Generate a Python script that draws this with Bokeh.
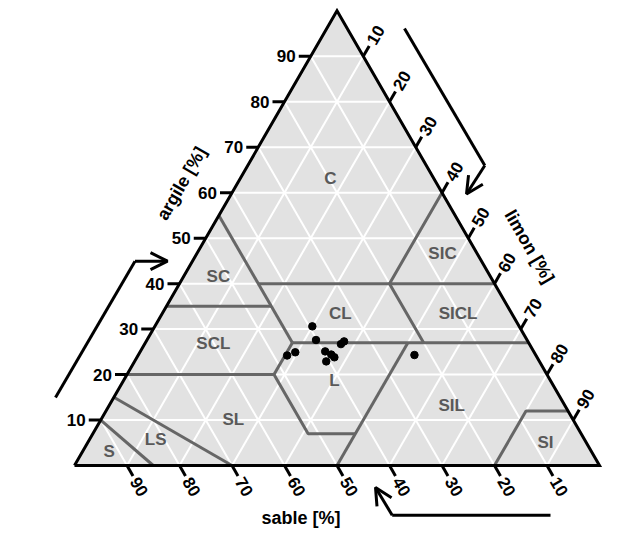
import numpy as np
from bokeh.plotting import figure
from bokeh.models import Range1d, Arrow, OpenHead
from bokeh.core.properties import value
from bokeh.embed import file_html
from bokeh.resources import INLINE

# ---------------- data ----------------
# sample points (clay %, sand %); silt = 100 - clay - sand
sample_clay = [30.6, 27.6, 24.2, 24.9, 25.1, 24.4, 23.8, 22.9, 26.7, 27.3, 24.3]
sample_sand = [39.4, 40.2, 47.4, 45.5, 39.7, 38.9, 38.6, 40.6, 35.9, 35.0, 23.1]

tick_values = [10, 20, 30, 40, 50, 60, 70, 80, 90]
clay_tick_labels = ["10", "20", "30", "40", "50", "60", "70", "80", "90"]
sand_tick_labels = ["10", "20", "30", "40", "50", "60", "70", "80", "90"]
silt_tick_labels = ["10", "20", "30", "40", "50", "60", "70", "80", "90"]

# texture class names and label positions (clay %, sand %)
class_names = ["C", "SIC", "SC", "CL", "SICL", "SCL", "L", "SIL", "SL", "LS", "S", "SI"]
class_label_clay = [63.1, 46.6, 41.6, 33.5, 33.5, 26.9, 18.6, 13.1, 10.1, 5.7, 3.0, 5.0]
class_label_sand = [19.7, 6.6, 51.8, 32.6, 10.2, 60.1, 41.2, 21.6, 64.7, 81.7, 91.9, 7.8]

# class boundaries as polylines of (clay %, sand %)
boundary_clay = [
    [55, 27],          # sand 45 line
    [40, 40],          # clay 40
    [35, 35],          # clay 35
    [27, 27],          # clay 27
    [27, 20],          # silt 28
    [20, 20, 7, 7],    # clay 20 / loam lower bound
    [0, 27],           # silt 50
    [60, 40, 27],      # silt 40 / sand 20
    [15, 0],           # LS / SL
    [10, 0],           # S / LS
    [0, 12, 12],       # silt
]
boundary_sand = [
    [45, 45],
    [45, 0],
    [65, 45],
    [45, 0],
    [45, 52],
    [80, 52, 52, 43],
    [50, 23],
    [0, 20, 20],
    [85, 70],
    [90, 85],
    [20, 8, 0],
]

axis_titles = ["argile [%]", "limon [%]", "sable [%]"]

# ---------------- helpers ----------------
H = np.sqrt(3) / 2
PX = 5.25      # pixels per percent unit
OX, OY = 74, 465   # screen position of the 100 % sand corner
W, HGT = 628, 531


def tern(clay, sand):
    c = np.asarray(clay, dtype=float)
    s = np.asarray(sand, dtype=float)
    return 100.0 - s - c / 2.0, H * c


def u(px, py):
    return (px - OX) / PX, (OY - py) / PX


p = figure(width=W, height=HGT, output_backend="svg", toolbar_location=None,
           x_axis_type=None, y_axis_type=None, min_border=0,
           x_range=Range1d((0 - OX) / PX, (W - OX) / PX),
           y_range=Range1d((OY - HGT) / PX, (OY - 0) / PX))
p.outline_line_color = None
p.background_fill_color = "white"
p.border_fill_color = "white"

# triangle fill
tx, ty = tern([0, 0, 100], [100, 0, 0])
p.patch(list(tx), list(ty), fill_color="#e2e2e2", line_color=None)

# white grid
gx, gy = [], []
for v in tick_values:
    x, y = tern([v, v], [100 - v, 0])          # constant clay
    gx.append(list(x)); gy.append(list(y))
    x, y = tern([0, 100 - v], [v, v])          # constant sand
    gx.append(list(x)); gy.append(list(y))
    x, y = tern([0, 100 - v], [100 - v, 0])    # constant silt
    gx.append(list(x)); gy.append(list(y))
p.multi_line(gx, gy, line_color="white", line_width=2)

# class boundaries
bx, by = [], []
for cl, sa in zip(boundary_clay, boundary_sand):
    x, y = tern(cl, sa)
    bx.append(list(x)); by.append(list(y))
p.multi_line(bx, by, line_color="#666666", line_width=3)

# outline
ox, oy = tern([0, 0, 100, 0], [100, 0, 0, 100])
p.line(list(ox), list(oy), line_color="black", line_width=3, line_join="miter")

# class labels
lx, ly = tern(class_label_clay, class_label_sand)
p.text(list(lx), list(ly), text=class_names, text_font=value("Liberation Sans"),
       text_font_style="bold", text_font_size="17px", text_color="#595959",
       text_align="center", text_baseline="middle")

# samples
sx, sy = tern(sample_clay, sample_sand)
p.scatter(list(sx), list(sy), size=7.5, color="black")

# ticks
TL = 12 / PX
font = value("Liberation Sans")
# clay (left)
cx0, cy0 = tern(tick_values, [100 - v for v in tick_values])
p.segment(list(cx0), list(cy0), list(cx0 - TL), list(cy0), line_color="black", line_width=3)
p.text(list(cx0 - TL - 3 / PX), list(cy0), text=clay_tick_labels, text_font=font,
       text_font_style="bold", text_font_size="17px", text_color="black",
       text_align="right", text_baseline="middle")
# sand (bottom)
bx0, by0 = tern([0] * 9, tick_values)
dxb, dyb = 0.5, -H
p.segment(list(bx0), list(by0), list(bx0 + TL * dxb), list(by0 + TL * dyb),
          line_color="black", line_width=3)
p.text(list(bx0 + (TL + 3 / PX) * dxb), list(by0 + (TL + 3 / PX) * dyb),
       text=sand_tick_labels, text_font=font, text_font_style="bold",
       text_font_size="17px", text_color="black", text_align="left",
       text_baseline="middle", angle=-np.pi / 3)
# silt (right)
rx0, ry0 = tern([100 - v for v in tick_values], [0] * 9)
dxr, dyr = 0.5, H
p.segment(list(rx0), list(ry0), list(rx0 + TL * dxr), list(ry0 + TL * dyr),
          line_color="black", line_width=3)
p.text(list(rx0 + (TL + 3 / PX) * dxr), list(ry0 + (TL + 3 / PX) * dyr),
       text=silt_tick_labels, text_font=font, text_font_style="bold",
       text_font_size="17px", text_color="black", text_align="left",
       text_baseline="middle", angle=np.pi / 3)

# axis titles
tpos = [u(181, 183), u(529, 246), u(300.5, 517)]
p.text([t[0] for t in tpos], [t[1] for t in tpos], text=axis_titles, text_font=font,
       text_font_style="bold", text_font_size="18px", text_color="black",
       text_align="center", text_baseline="middle",
       angle=[np.pi / 3, -np.pi / 3, 0])

# direction arrows
arrows = [
    [(55, 397), (134.5, 260.7), (167, 260.7)],
    [(404, 28), (484.3, 165), (466, 193.5)],
    [(550, 514.7), (391.7, 514.7), (375, 487)],
]
for pts in arrows:
    xs = [u(*q)[0] for q in pts]
    ys = [u(*q)[1] for q in pts]
    p.line(xs[:2], ys[:2], line_color="black", line_width=3)
    p.add_layout(Arrow(end=OpenHead(size=17, line_width=3, line_color="black"),
                       x_start=xs[1], y_start=ys[1], x_end=xs[2], y_end=ys[2],
                       line_width=3, line_color="black"))

open("out.html", "w").write(file_html(p, INLINE))
